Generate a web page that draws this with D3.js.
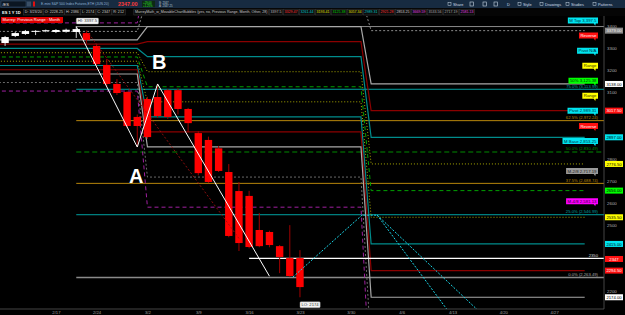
<!DOCTYPE html>
<html><head><meta charset="utf-8">
<script src="https://cdn.jsdelivr.net/npm/d3@7/dist/d3.min.js"></script>
<style>html,body{margin:0;padding:0;background:#000;overflow:hidden}svg{display:block}</style>
</head><body><svg id="chart" width="625" height="315"></svg>
<script>
// ---------------- DATA ----------------
const candleDates = ["2/10","2/11","2/12","2/13","2/14","2/18","2/19","2/20","2/21","2/24","2/25","2/26","2/27","2/28","3/2","3/3","3/4","3/5","3/6","3/9","3/10","3/11","3/12","3/13","3/16","3/17","3/18","3/19","3/20","3/23"];
const opens  = [3323,3355,3364,3376,3377,3373,3374,3373,3368,3310,3224,3138,3102,2989,3070,3079,3110,3110,3025,2916,2885,2847,2740,2654,2632,2478,2469,2405,2351,2351];
const highs  = [3355,3373,3382,3381,3384,3386,3388,3397.5,3375,3315,3251,3160,3105,3000,3080,3138,3115,3118,3030,2925,2900,2858,2776,2695,2655,2555,2475,2410,2500,2387];
const lows   = [3310,3350,3360,3359,3372,3368,3370,3346,3322,3212,3128,3088,2940,2853,2890,2985,2980,3000,2920,2725,2690,2740,2445,2383,2395,2400,2400,2283,2265,2174];
const closes = [3350,3368,3377,3378,3381,3382,3383,3386,3337,3228,3138,3097,2948,2948,2898,2993,2989,3025,2961,2735,2695,2745,2451,2419,2401,2405,2410,2356,2270,2220];

const tickDays   = [5,9,14,19,24,29,34,39,44,49,54];
const tickLabels = ["2/17","2/24","3/2","3/9","3/16","3/23","3/30","4/6","4/13","4/20","4/27"];
const priceTicks = [3400,3300,3200,3100,3000,2900,2800,2700,2600,2500,2400,2300,2200];

// Murrey Math levels per month (order: +4/8,+2/8,8/8,7/8,6/8,5/8,4/8,3/8,2/8,1/8,0/8,-2/8,-4/8)
const mmNames = ["+4/8","+2/8","8/8","7/8","6/8","5/8","4/8","3/8","2/8","1/8","0/8","-2/8","-4/8"];
const mmFeb = [3414.0,3375.5,3337.0,3317.75,3298.5,3279.25,3260.0,3240.75,3221.5,3202.25,3183.0,3144.5,3106.0];
const mmMar = [3669.59,3533.56,3397.5,3329.47,3261.44,3193.41,3125.38,3057.34,2989.31,2921.28,2853.25,2717.19,2581.13];
const mmApr = [3620.0,3379.0,3138.0,3017.5,2897.0,2776.5,2656.0,2535.5,2415.0,2294.5,2174.0,1933.0,1692.0];
const monthStart = [-1,14,36];
const monthEnd   = [13,35,57];

// Fibonacci retracement
const fibPct    = ["100%","75.0%","62.5%","50.0%","37.5%","25.0%","0.0%"];
const fibPrices = [3397.5,3113.99,2972.24,2830.49,2688.74,2546.99,2263.49];
const fibStartDay = 7;

// chart bubbles (labels for current month levels)
const bubbleTexts = ["M Top 3,397.5","Reverse","Pivot N/A","Range","50% 3,125.38","Range","Pivot 2,989.31","Reverse","M Base 2,853.25","M-2/8 2,717.19","M-4/8 2,581.13"];
const bubbleLevelIdx = [2,3,4,5,6,7,8,9,10,11,12];

// drawings
const zigDays   = [7,13,15,26];
const zigPrices = [3397.5,2853,3138,2269];
const trendDays   = [8,23];
const trendPrices = [3380,2440];
const cyanDays   = [28.3,35.1,36.6];
const cyanPrices = [2265,2545,2545];
const rayEndDays   = [43.6,46.5];
const rayEndPrices = [2110,2115];
const levelPrice = 2350, levelStartDay = 24;
const lastPrice = 2347;

const headerCells = ["D: 3/23/20","O: 2228.25","H: 2386","L: 2174","C: 2347","R: 212"];
const studyLabel = "MurreyMath_w_MovableChartBubbles (yes, no, Previous Range, Month, Other, 28)";
const studyValues = ["3397.5","3329.47","3261.44","3193.41","3125.38","3057.34","2989.31","2921.28","2853.25","3669.59","3533.56","2717.19","2581.13"];

// ---------------- STYLES ----------------
const mmStyles = [
 {c:"#a020a0",w:1,dash:"4,3"},
 {c:"#8a8a8a",w:1,dash:"2,2"},
 {c:"#a8a8a8",w:1.2,dash:null},
 {c:"#8b0000",w:1.2,dash:null},
 {c:"#008c8c",w:1.2,dash:null},
 {c:"#a8a800",w:1,dash:"1,2"},
 {c:"#00a000",w:1,dash:"4,3"},
 {c:"#a8a800",w:1,dash:"1,2"},
 {c:"#008c8c",w:1.2,dash:null},
 {c:"#8b0000",w:1.2,dash:null},
 {c:"#a8a8a8",w:1.2,dash:null},
 {c:"#6a6a6a",w:1,dash:"2,2"},
 {c:"#a020a0",w:1,dash:"4,3"}
];
const fibStyles = [
 {c:"#8a8a8a",w:1,dash:null},
 {c:"#00a0a0",w:1,dash:null},
 {c:"#b8860b",w:1,dash:null},
 {c:"#008a00",w:1,dash:"5,3"},
 {c:"#b8860b",w:1,dash:null},
 {c:"#00a0a0",w:1,dash:null},
 {c:"#8a8a8a",w:1.6,dash:null}
];
const bubbleStyles = [
 {bg:"#00e5f0",fg:"#003040"},{bg:"#ff1010",fg:"#fff"},{bg:"#00e5f0",fg:"#003040"},
 {bg:"#ffff00",fg:"#303000"},{bg:"#00ff00",fg:"#003000"},{bg:"#ffff00",fg:"#303000"},
 {bg:"#00e5f0",fg:"#003040"},{bg:"#ff1010",fg:"#fff"},{bg:"#00e5f0",fg:"#003040"},
 {bg:"#9a9a9a",fg:"#202020"},{bg:"#ff00ff",fg:"#300030"}
];
const tagStyles = {
 "+2/8":{bg:"#8a8a8a",fg:"#eee"},"8/8":{bg:"#ffffff",fg:"#000"},"7/8":{bg:"#ff1010",fg:"#fff"},
 "6/8":{bg:"#00e5f0",fg:"#000"},"5/8":{bg:"#ffff00",fg:"#000"},"4/8":{bg:"#00ff00",fg:"#000"},
 "3/8":{bg:"#ffff00",fg:"#000"},"2/8":{bg:"#00e5f0",fg:"#000"},"1/8":{bg:"#ff1010",fg:"#fff"},
 "0/8":{bg:"#ffffff",fg:"#000"}
};
const studyValueColors = ["#bbbbbb","#ff3030","#00c8c8","#e0e000","#00d000","#e0e000","#00c8c8","#ff3030","#cccccc","#e040e0","#aaaaaa","#aaaaaa","#e040e0"];

// ---------------- SETUP ----------------
const FONT = "'Liberation Sans', Arial, sans-serif";
const svg = d3.select("#chart").attr("font-family", FONT);
svg.append("rect").attr("width",625).attr("height",315).attr("fill","#000");

const PL=0, PR=604, PT=16, PB=309;
const x = d3.scaleLinear().domain([-0.5,58.9]).range([PL,PR]);
const y = d3.scaleLinear().domain([2200,3400]).range([291.5,26]);

svg.append("defs").append("clipPath").attr("id","pc")
  .append("rect").attr("x",PL).attr("y",PT).attr("width",PR-PL).attr("height",PB-PT);
const plot = svg.append("g").attr("clip-path","url(#pc)");
const line = d3.line().x(d=>x(d.d)).y(d=>y(d.p));

// Fibonacci lines
fibPrices.forEach((p,k)=>{
  const s = fibStyles[k];
  plot.append("path").attr("d", line([{d:fibStartDay,p},{d:58.9,p}]))
    .attr("stroke",s.c).attr("stroke-width",s.w).attr("fill","none")
    .attr("stroke-dasharray",s.dash);
});

// Murrey Math lines
const mmMonths = [mmFeb, mmMar, mmApr];
mmNames.forEach((name,k)=>{
  const pts = [];
  mmMonths.forEach((arr,m)=>{
    pts.push({d:monthStart[m],p:arr[k]});
    pts.push({d:monthEnd[m],p:arr[k]});
  });
  const s = mmStyles[k];
  plot.append("path").attr("d", line(pts))
    .attr("stroke",s.c).attr("stroke-width",s.w).attr("fill","none")
    .attr("stroke-dasharray",s.dash);
});

// horizontal price level
plot.append("path").attr("d", line([{d:levelStartDay,p:levelPrice},{d:58.9,p:levelPrice}]))
  .attr("stroke","#ffffff").attr("stroke-width",1.3).attr("fill","none");

// candles
const candles = candleDates.map((dt,i)=>({i,o:opens[i],h:highs[i],l:lows[i],c:closes[i]}));
const cg = plot.append("g");
cg.selectAll("line").data(candles).join("line")
  .attr("x1",d=>x(d.i)).attr("x2",d=>x(d.i))
  .attr("y1",d=>y(d.h)).attr("y2",d=>y(d.l))
  .attr("stroke",d=>d.c>=d.o?"#d0d0d0":"#a00000").attr("stroke-width",1);
cg.selectAll("rect").data(candles).join("rect")
  .attr("x",d=>x(d.i)-3.7).attr("width",7.4)
  .attr("y",d=>y(Math.max(d.o,d.c)))
  .attr("height",d=>Math.max(1,Math.abs(y(d.o)-y(d.c))))
  .attr("fill",d=>d.c>=d.o?"#ffffff":"#ff0000");

// trend line (dark red dashed)
plot.append("path").attr("d", line(trendDays.map((d,i)=>({d,p:trendPrices[i]}))))
  .attr("stroke","#9a1010").attr("stroke-width",0.9).attr("stroke-dasharray","2,2").attr("fill","none");

// white zigzag A-B
plot.append("path").attr("d", line(zigDays.map((d,i)=>({d,p:zigPrices[i]}))))
  .attr("stroke","#ffffff").attr("stroke-width",1).attr("fill","none");

// cyan dashed projections
const cyanPts = cyanDays.map((d,i)=>({d,p:cyanPrices[i]}));
plot.append("path").attr("d", line(cyanPts))
  .attr("stroke","#1ad6e8").attr("stroke-width",1).attr("stroke-dasharray","2,1.5").attr("fill","none");
const apex = cyanPts[cyanPts.length-1];
rayEndDays.forEach((d,i)=>{
  plot.append("path").attr("d", line([apex,{d,p:rayEndPrices[i]}]))
    .attr("stroke","#1ad6e8").attr("stroke-width",1).attr("stroke-dasharray","2,1.5").attr("fill","none");
});

// A / B labels
const A = {d:zigDays[1],p:zigPrices[1]}, B = {d:zigDays[2],p:zigPrices[2]};
svg.append("text").attr("x",x(B.d)+1.5).attr("y",y(B.p)-15).attr("text-anchor","middle")
  .attr("font-size",20).attr("font-weight","bold").attr("fill","#fff").text("B");
svg.append("text").attr("x",x(A.d)-1).attr("y",y(A.p)+36).attr("text-anchor","middle")
  .attr("font-size",20).attr("font-weight","bold").attr("fill","#fff").text("A");

// HI / LO bubbles
function boxLabel(xl, yt, txt){
  const g = svg.append("g");
  const r = g.append("rect").attr("x",xl).attr("y",yt).attr("height",6).attr("rx",1)
    .attr("fill","#f4f4f4").attr("stroke","#888").attr("stroke-width",0.4);
  const t = g.append("text").attr("x",xl+1.5).attr("y",yt+4.4).attr("font-size",4.2).attr("fill","#333").text(txt);
  r.attr("width", t.node().getComputedTextLength()+3);
}
boxLabel(x(7), y(highs[7])-8.5, "HI: " + highs[7]);
boxLabel(x(29), y(lows[29])+4.5, "LO: " + lows[29]);

// chart bubbles at right
const bubX = PR - 6;
bubbleTexts.forEach((txt,k)=>{
  const p = mmMar[bubbleLevelIdx[k]];
  const yc = y(p) - 6;
  const s = bubbleStyles[k];
  const g = svg.append("g");
  const path = g.append("path").attr("fill",s.bg);
  const t = g.append("text").attr("x",bubX-1.5).attr("y",yc+1.6).attr("text-anchor","end")
    .attr("font-size",4.3).attr("fill",s.fg).text(txt);
  const w = t.node().getComputedTextLength()+3;
  const x0 = bubX - w, y0 = yc - 3;
  path.attr("d",`M${x0},${y0}h${w}v6h-2.2l-0.6,2.2l-1.4,-2.2H${x0}Z`);
});

// fib labels
fibPrices.forEach((p,k)=>{
  if(k===0) return;
  svg.append("text").attr("x",bubX).attr("y",y(p)-1.6).attr("text-anchor","end")
    .attr("font-size",4.2).attr("fill",fibStyles[k].c === "#8a8a8a" ? "#aaaaaa" : fibStyles[k].c)
    .text(fibPct[k] + " (" + d3.format(",.2f")(p) + ")");
});
svg.append("text").attr("x",bubX).attr("y",y(levelPrice)-1.8).attr("text-anchor","end")
  .attr("font-size",4.2).attr("fill","#dddddd").text(String(levelPrice));

// ---------------- AXES ----------------
svg.append("line").attr("x1",PR).attr("x2",PR).attr("y1",PT).attr("y2",PB).attr("stroke","#555").attr("stroke-width",0.8);
svg.append("line").attr("x1",PL).attr("x2",PR).attr("y1",PB).attr("y2",PB).attr("stroke","#555").attr("stroke-width",0.8);

// axis tags (last values of current projection)
const tags = [];
mmNames.forEach((n,k)=>{ if(tagStyles[n] && mmApr[k] > 2150) tags.push({p:mmApr[k], txt:d3.format(".2f")(mmApr[k]), s:tagStyles[n]}); });
tags.push({p:lastPrice, txt:String(lastPrice), s:{bg:"#ff1010",fg:"#fff"}});

const yAxis = d3.axisRight(y).tickValues(priceTicks.filter(v=>tags.every(t=>Math.abs(y(t.p)-y(v))>=4.5)))
  .tickSize(0).tickPadding(3).tickFormat(d3.format("d"));
const ya = svg.append("g").attr("transform",`translate(${PR},0)`).call(yAxis);
ya.select(".domain").remove();
ya.selectAll("text").attr("font-size",4.4).attr("fill","#b0b0b0").attr("font-family",FONT);

tags.forEach(t=>{
  const yc = y(t.p);
  svg.append("rect").attr("x",PR+1).attr("y",yc-3).attr("width",18).attr("height",6).attr("fill",t.s.bg);
  svg.append("text").attr("x",PR+10).attr("y",yc+1.6).attr("text-anchor","middle")
    .attr("font-size",4.2).attr("fill",t.s.fg).text(t.txt);
});

const xAxis = d3.axisBottom(x).tickValues(tickDays).tickFormat((d,i)=>tickLabels[i]).tickSize(0).tickPadding(2);
const xa = svg.append("g").attr("transform",`translate(0,${PB})`).call(xAxis);
xa.select(".domain").remove();
xa.selectAll("text").attr("font-size",4.2).attr("fill","#a0a0a0").attr("font-family",FONT);

// ---------------- HEADER ----------------
svg.append("rect").attr("x",0).attr("y",0).attr("width",625).attr("height",8).attr("fill","#172b41");
svg.append("rect").attr("x",0).attr("y",8).attr("width",625).attr("height",8).attr("fill","#050505");
svg.append("rect").attr("x",1).attr("y",1).attr("width",25).attr("height",6).attr("fill","#0b1622").attr("stroke","#4a6580").attr("stroke-width",0.4);
svg.append("text").attr("x",2.5).attr("y",5.5).attr("font-size",4).attr("fill","#e0e0e0").text("/ES");
svg.append("rect").attr("x",27).attr("y",1.5).attr("width",4).attr("height",5).attr("fill","#3a4f66");
svg.append("rect").attr("x",33).attr("y",1.5).attr("width",2).attr("height",5).attr("fill","#e01010");
svg.append("text").attr("x",41).attr("y",5.4).attr("font-size",3.4).attr("fill","#8fb2d6").text("E-mini S&P 500 Index Futures,ETH (JUN 20)");
svg.append("text").attr("x",118).attr("y",6).attr("font-size",5.4).attr("font-weight","bold").attr("fill","#ff3a3a").text(lastPrice.toFixed(2));
svg.append("rect").attr("x",142).attr("y",0.8).attr("width",13).attr("height",6.4).attr("fill","#0d2a14");
svg.append("text").attr("x",143).attr("y",3.6).attr("font-size",2.8).attr("fill","#30e030").text("+29.00");
svg.append("text").attr("x",143).attr("y",6.6).attr("font-size",2.8).attr("fill","#30e030").text("+1.25%");
svg.append("text").attr("x",159).attr("y",3.6).attr("font-size",2.8).attr("fill","#b0c0d0").text("B: 2347");
svg.append("text").attr("x",159).attr("y",6.6).attr("font-size",2.8).attr("fill","#b0c0d0").text("A: 2347.25");

const toolbar = [{t:"Share",x:453},{t:"D",x:507},{t:"Style",x:523},{t:"Drawings",x:545},{t:"Studies",x:571},{t:"Patterns",x:598}];
toolbar.forEach(b=>{
  svg.append("text").attr("x",b.x).attr("y",5.5).attr("font-size",3.9).attr("fill","#d0dde8").text(b.t);
  if(b.t!=="D") svg.append("rect").attr("x",b.x-5).attr("y",2.3).attr("width",3).attr("height",3.4).attr("fill","none").attr("stroke","#c8d6e4").attr("stroke-width",0.5);
});
[470,483,494].forEach(px=>svg.append("rect").attr("x",px).attr("y",2).attr("width",3.5).attr("height",4).attr("fill","none").attr("stroke","#c8d6e4").attr("stroke-width",0.6));

// row 2
let cx = 2;
const t0 = svg.append("text").attr("x",cx).attr("y",13.6).attr("font-size",4).attr("font-weight","bold").attr("fill","#ffffff").text("ES 1 Y 1D");
cx += t0.node().getComputedTextLength() + 3;
function cell(txt, color, fs){
  const g = svg.append("g");
  const r = g.append("rect").attr("x",cx).attr("y",9.2).attr("height",5.8).attr("fill","#0c0c0c").attr("stroke","#3c3c3c").attr("stroke-width",0.5);
  const t = g.append("text").attr("x",cx+1.2).attr("y",13.4).attr("font-size",fs).attr("fill",color).text(txt);
  const w = t.node().getComputedTextLength()+2.4;
  r.attr("width",w);
  cx += w + 0.6;
}
headerCells.forEach(h=>cell(h,"#c8c8c8",3.7));
cx += 8;
cell(studyLabel,"#c8c8c8",3.6);
studyValues.forEach((v,i)=>cell(v,studyValueColors[i],3.6));

// month label
svg.append("rect").attr("x",1).attr("y",17).attr("width",62).attr("height",6).attr("fill","#e00000");
svg.append("text").attr("x",2.5).attr("y",21.3).attr("font-size",4).attr("fill","#fff").text("Murrey: Previous Range : Month");
</script></body></html>
